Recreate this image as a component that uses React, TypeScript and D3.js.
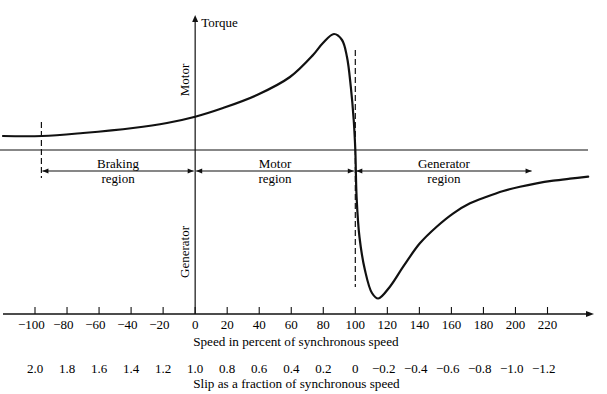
import * as d3 from 'd3'
import React, { useRef, useEffect } from 'react'

// speed axis ticks (percent of synchronous speed) and slip labels underneath
const speedTicks = [-100, -80, -60, -40, -20, 0, 20, 40, 60, 80, 100, 120, 140, 160, 180, 200, 220]
const slipLabels = ['2.0', '1.8', '1.6', '1.4', '1.2', '1.0', '0.8', '0.6', '0.4', '0.2', '0', '−0.2', '−0.4', '−0.6', '−0.8', '−1.0', '−1.2']

// torque-speed curve (torque in arbitrary units)
const curveSpeed = [-120, -95.6, -70, -38.8, -17.6, 0, 17.4, 38.6, 59.2, 73.6, 79.8, 86.7, 91.7, 94.8, 97.2, 99, 100, 100.8, 102.6, 106, 110.4, 114.3, 121.6, 129.9, 140.3, 150.8, 161.2, 171.6, 182, 192.4, 202.8, 213.2, 223.6, 234, 245.4]
const curveTorque = [14, 14, 17, 22, 27, 33.3, 42, 55, 73, 95, 107, 116, 110, 93, 63, 30, 0, -47, -87, -120, -143, -148.5, -136.7, -116.7, -93.3, -76.7, -63.3, -53.3, -46.7, -41, -36.7, -33.3, -30.7, -28.7, -26.7]

// operating regions
const regionNames = ['Braking', 'Motor', 'Generator']
const regionStart = [-96, 0, 100]
const regionEnd = [0, 100, 211]

const FONT = 'Liberation Serif, Times New Roman, serif'

const App = () => {
  const ref = useRef(null)

  useEffect(() => {
    draw()
  }, [])

  const draw = () => {
    const totalWidth = 607
    const totalHeight = 394

    const xScale = d3.scaleLinear().domain([-100, 220]).range([35, 547.5])
    const yScale = d3.scaleLinear().domain([-164, 134]).range([314, 16])

    const svg = d3.select(ref.current).attr('width', totalWidth).attr('height', totalHeight)
    svg.selectAll('*').remove()
    svg.append('rect').attr('width', totalWidth).attr('height', totalHeight).attr('fill', '#fff')

    const x0 = xScale(0)
    const yZero = yScale(0)
    const yBottom = yScale(-164)

    // arrowhead helper
    const arrow = (tx: number, ty: number, dir: string, len = 7, half = 3) => {
      let pts: number[][] = []
      if (dir === 'right') pts = [[tx, ty], [tx - len, ty - half], [tx - len, ty + half]]
      if (dir === 'left') pts = [[tx, ty], [tx + len, ty - half], [tx + len, ty + half]]
      if (dir === 'up') pts = [[tx, ty], [tx - half, ty + len], [tx + half, ty + len]]
      svg.append('path').attr('d', 'M' + pts.join('L') + 'Z').attr('fill', '#111')
    }

    // torque = 0 line
    svg
      .append('line')
      .attr('x1', 0)
      .attr('x2', 588)
      .attr('y1', yZero)
      .attr('y2', yZero)
      .attr('stroke', '#111')
      .attr('stroke-width', 1.2)

    // vertical torque axis
    svg
      .append('line')
      .attr('x1', x0)
      .attr('x2', x0)
      .attr('y1', yBottom)
      .attr('y2', 20)
      .attr('stroke', '#111')
      .attr('stroke-width', 1.2)
    arrow(x0, 15, 'up')

    svg
      .append('text')
      .attr('x', x0 + 6)
      .attr('y', 27)
      .attr('font-family', FONT)
      .attr('font-size', 13)
      .text('Torque')

    // rotated side labels
    svg
      .append('text')
      .attr('transform', `translate(${x0 - 6},80) rotate(-90)`)
      .attr('text-anchor', 'middle')
      .attr('font-family', FONT)
      .attr('font-size', 13)
      .text('Motor')
    svg
      .append('text')
      .attr('transform', `translate(${x0 - 6},252) rotate(-90)`)
      .attr('text-anchor', 'middle')
      .attr('font-family', FONT)
      .attr('font-size', 13)
      .text('Generator')

    // speed axis
    svg
      .append('line')
      .attr('x1', 3)
      .attr('x2', 588)
      .attr('y1', yBottom)
      .attr('y2', yBottom)
      .attr('stroke', '#111')
      .attr('stroke-width', 1.3)
    arrow(594, yBottom, 'right', 8, 3)

    svg
      .selectAll('.tick')
      .data(speedTicks)
      .enter()
      .append('line')
      .attr('class', 'tick')
      .attr('x1', (d) => xScale(d))
      .attr('x2', (d) => xScale(d))
      .attr('y1', yBottom)
      .attr('y2', yBottom - 7)
      .attr('stroke', '#111')
      .attr('stroke-width', 1.1)

    // width of the digit part, so that minus signs hang to the left
    const digitWidth = (s: string, fs: number) => {
      let w = 0
      for (const c of s) w += c === '.' ? 0.25 : 0.5
      return w * fs
    }
    const label = (s: string, x: number, y: number, fs: number) => {
      const neg = s.startsWith('−')
      const body = neg ? s.slice(1) : s
      svg
        .append('text')
        .attr('x', x + digitWidth(body, fs) / 2)
        .attr('y', y)
        .attr('text-anchor', 'end')
        .attr('font-family', FONT)
        .attr('font-size', fs)
        .text(neg ? '−' + body : body)
    }

    speedTicks.forEach((d) => label(String(d).replace('-', '−'), xScale(d), 328.5, 13))
    slipLabels.forEach((s, i) => label(s, xScale(speedTicks[i]), 373, 13))

    svg
      .append('text')
      .attr('x', x0 - 2)
      .attr('y', 346)
      .attr('font-family', FONT)
      .attr('font-size', 13.2)
      .text('Speed in percent of synchronous speed')
    svg
      .append('text')
      .attr('x', x0 - 2)
      .attr('y', 388)
      .attr('font-family', FONT)
      .attr('font-size', 13.2)
      .text('Slip as a fraction of synchronous speed')

    // dashed boundaries
    const dashed = (s: number, t1: number, t2: number) =>
      svg
        .append('line')
        .attr('x1', xScale(s))
        .attr('x2', xScale(s))
        .attr('y1', yScale(t1))
        .attr('y2', yScale(t2))
        .attr('stroke', '#111')
        .attr('stroke-width', 1.2)
        .attr('stroke-dasharray', '6,3')
    dashed(-96, 28, -28)
    dashed(100, 100, -137)

    // region arrows with labels
    const yArrow = yScale(-21)
    regionNames.forEach((name, i) => {
      const xa = xScale(regionStart[i]) + 1
      const xb = xScale(regionEnd[i]) - 1.5
      const cx = (xa + xb) / 2
      svg
        .append('line')
        .attr('x1', xa)
        .attr('x2', xb)
        .attr('y1', yArrow)
        .attr('y2', yArrow)
        .attr('stroke', '#111')
        .attr('stroke-width', 1.1)
      arrow(xa, yArrow, 'left', 6, 2.5)
      arrow(xb, yArrow, 'right', 6, 2.5)
      const t1 = svg
        .append('text')
        .attr('x', cx)
        .attr('y', yArrow - 3)
        .attr('text-anchor', 'middle')
        .attr('font-family', FONT)
        .attr('font-size', 13)
        .text(name)
      const w = (t1.node() as SVGTextElement).getComputedTextLength()
      svg
        .insert('rect', 'text')
        .attr('x', cx - w / 2 - 4)
        .attr('y', yArrow - 3)
        .attr('width', w + 8)
        .attr('height', 6)
        .attr('fill', '#fff')
      svg
        .append('text')
        .attr('x', cx)
        .attr('y', yArrow + 12)
        .attr('text-anchor', 'middle')
        .attr('font-family', FONT)
        .attr('font-size', 13)
        .text('region')
    })

    // torque-speed curve
    const line = d3
      .line<number>()
      .x((d, i) => xScale(curveSpeed[i]))
      .y((d) => yScale(d))
      .curve(d3.curveCatmullRom.alpha(0.5))

    svg
      .append('path')
      .datum(curveTorque)
      .attr('fill', 'none')
      .attr('stroke', '#111')
      .attr('stroke-width', 2.2)
      .attr('stroke-linejoin', 'round')
      .attr('stroke-linecap', 'round')
      .attr('d', line)
  }

  return (
    <div style={{ position: 'absolute', left: 0, top: 0 }}>
      <svg ref={ref} style={{ display: 'block' }} />
    </div>
  )
}

export default App
